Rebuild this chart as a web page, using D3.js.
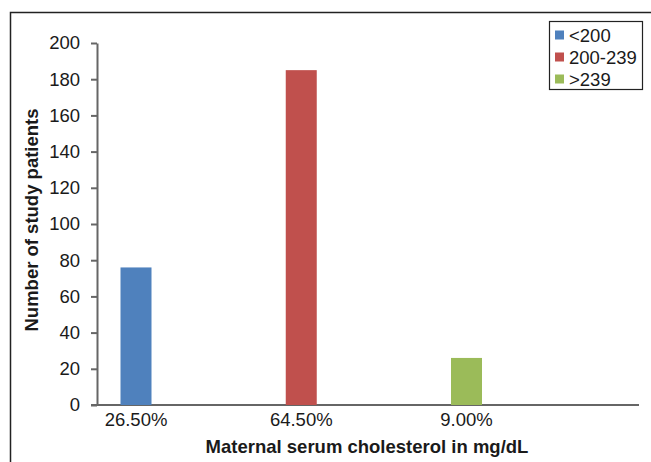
<!DOCTYPE html>
<html>
<head>
<meta charset="utf-8">
<script src="https://cdn.jsdelivr.net/npm/d3@7"></script>
<style>
  body { margin: 0; background: #fff; }
  svg { font-family: "Liberation Sans", Arial, sans-serif; }
</style>
</head>
<body>
<div id="chart"></div>
<script>
const categories = ["26.50%", "64.50%", "9.00%"];
const series = ["<200", "200-239", ">239"];
const values = [76, 185, 26];   // one bar per category, its own series
const colors = ["#4F81BD", "#C0504D", "#9BBB59"];
const yTicks = [0, 20, 40, 60, 80, 100, 120, 140, 160, 180, 200];

const W = 651, H = 462;
const fs = "18.5px";
const svg = d3.select("#chart")
    .append("svg")
    .attr("width", W)
    .attr("height", H);

// outer frame (top + left only)
svg.append("path")
    .attr("d", `M10.5,${H} V12.5 H${W}`)
    .attr("fill", "none")
    .attr("stroke", "#222")
    .attr("stroke-width", 1.5);

const x = d3.scalePoint()
    .domain(categories)
    .range([136, 466.5]);

const y = d3.scaleLinear()
    .domain([0, 200])
    .range([405, 43]);

const barW = 31;

// x axis line
svg.append("line")
    .attr("x1", 91).attr("x2", 639)
    .attr("y1", y(0)).attr("y2", y(0))
    .attr("stroke", "#666").attr("stroke-width", 2);

// y axis
const yAxis = svg.append("g")
    .attr("transform", "translate(97,0)")
    .call(d3.axisLeft(y).tickValues(yTicks).tickSize(6).tickSizeOuter(0).tickPadding(11));
yAxis.select(".domain").attr("stroke", "#666").attr("stroke-width", 2);
yAxis.selectAll(".tick line").attr("stroke", "#666").attr("stroke-width", 2);
yAxis.selectAll("text")
    .attr("fill", "#1a1a1a")
    .style("font-size", fs);

svg.selectAll(".bar")
    .data(values)
    .join("rect")
    .attr("class", "bar")
    .attr("x", (d, i) => x(categories[i]) - barW / 2)
    .attr("y", d => y(d))
    .attr("width", barW)
    .attr("height", d => y(0) - y(d))
    .attr("fill", (d, i) => colors[i]);

// x tick labels
svg.selectAll(".xlab")
    .data(categories)
    .join("text")
    .attr("class", "xlab")
    .attr("x", d => x(d))
    .attr("y", 426)
    .attr("text-anchor", "middle")
    .attr("fill", "#1a1a1a")
    .style("font-size", fs)
    .text(d => d);

// axis titles
svg.append("text")
    .attr("x", 367)
    .attr("y", 453)
    .attr("text-anchor", "middle")
    .attr("fill", "#1a1a1a")
    .style("font-size", fs)
    .style("font-weight", "bold")
    .text("Maternal serum cholesterol in mg/dL");

svg.append("text")
    .attr("transform", "translate(38,220) rotate(-90)")
    .attr("text-anchor", "middle")
    .attr("fill", "#1a1a1a")
    .style("font-size", fs)
    .style("font-weight", "bold")
    .text("Number of study patients");

// legend
const legend = svg.append("g");
legend.append("rect")
    .attr("x", 549.5).attr("y", 21.5)
    .attr("width", 93).attr("height", 68)
    .attr("fill", "#fff")
    .attr("stroke", "#222")
    .attr("stroke-width", 1.2);

const items = legend.selectAll(".item")
    .data(series)
    .join("g")
    .attr("class", "item")
    .attr("transform", (d, i) => `translate(555,${35 + i * 22})`);
items.append("rect")
    .attr("x", 0).attr("y", -4.5)
    .attr("width", 9).attr("height", 9)
    .attr("fill", (d, i) => colors[i]);
items.append("text")
    .attr("x", 14)
    .attr("y", 6.5)
    .attr("fill", "#1a1a1a")
    .style("font-size", fs)
    .text(d => d);
</script>
</body>
</html>
